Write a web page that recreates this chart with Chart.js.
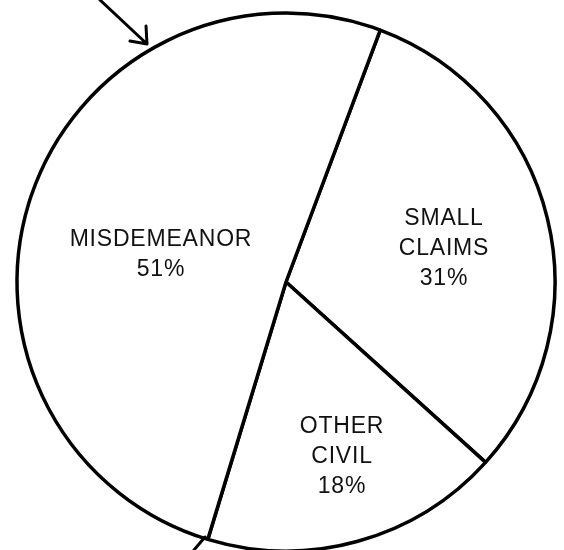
<!DOCTYPE html>
<html lang="en">
<head>
  <meta charset="UTF-8">
  <title>Caseload by type</title>
  <style>
    html, body {
      margin: 0;
      padding: 0;
      background: #fff;
    }
    #wrap {
      width: 564px;
      height: 550px;
    }
  </style>
  <script src="https://cdn.jsdelivr.net/npm/chart.js"></script>
</head>
<body>

  <div id="wrap">
    <canvas id="caseChart" width="564" height="550"></canvas>
  </div>

  <script>
    // case types, drawn clockwise from the upper dividing line
    const caseTypes = [['SMALL', 'CLAIMS'], ['OTHER', 'CIVIL'], ['MISDEMEANOR']];
    const caseShares = [31, 18, 51];

    // where each label block sits: fraction of radius, and a small turn (deg) off the slice middle
    const labelDepth = [0.6, 0.681, 0.476];
    const labelTurn = [1.9, -2.3, -6.3];

    // writes the type name and percentage inside each slice
    const sliceLabels = {
      id: 'sliceLabels',
      afterDatasetsDraw(chart) {
        const ctx = chart.ctx;
        const arcs = chart.getDatasetMeta(0).data;
        ctx.save();
        ctx.fillStyle = '#111';
        ctx.font = '23px "Liberation Sans", Arial, sans-serif';
        ctx.letterSpacing = '0.8px';
        ctx.textAlign = 'center';
        ctx.textBaseline = 'middle';
        arcs.forEach((arc, i) => {
          const p = arc.getProps(['x', 'y', 'startAngle', 'endAngle', 'outerRadius'], true);
          const mid = (p.startAngle + p.endAngle) / 2 + labelTurn[i] * Math.PI / 180;
          const r = p.outerRadius * labelDepth[i];
          const cx = p.x + Math.cos(mid) * r;
          const cy = p.y + Math.sin(mid) * r;
          const lines = caseTypes[i].concat([caseShares[i] + '%']);
          const lh = 30;
          const top = cy - (lines.length - 1) * lh / 2;
          lines.forEach((t, k) => ctx.fillText(t, cx, top + k * lh));
        });
        ctx.restore();
      }
    };

    // the two hand-drawn pointer strokes around the circle
    const pointers = {
      id: 'pointers',
      afterDraw(chart) {
        const ctx = chart.ctx;
        ctx.save();
        ctx.strokeStyle = '#000';
        ctx.lineWidth = 3;
        ctx.lineCap = 'round';
        ctx.lineJoin = 'round';
        ctx.beginPath();
        ctx.moveTo(100, 0);
        ctx.lineTo(147, 44);
        ctx.moveTo(146, 26);
        ctx.lineTo(147, 44);
        ctx.lineTo(130, 41);
        ctx.moveTo(205, 537);
        ctx.lineTo(194, 550);
        ctx.stroke();
        ctx.restore();
      }
    };

    const ctx = document.getElementById('caseChart').getContext('2d');
    new Chart(ctx, {
      type: 'pie',
      data: {
        labels: caseTypes.map(l => l.join(' ')),
        datasets: [{
          data: caseShares,
          backgroundColor: '#fff',
          borderColor: '#000',
          borderWidth: 3.5,
          hoverOffset: 0,
          offset: 0,
          radius: 269
        }]
      },
      options: {
        responsive: false,
        animation: false,
        rotation: 20.5,
        layout: {
          padding: { top: 14, left: 8, right: 0, bottom: 0 }
        },
        plugins: {
          legend: { display: false },
          tooltip: { enabled: false }
        }
      },
      plugins: [sliceLabels, pointers]
    });
  </script>

</body>
</html>
